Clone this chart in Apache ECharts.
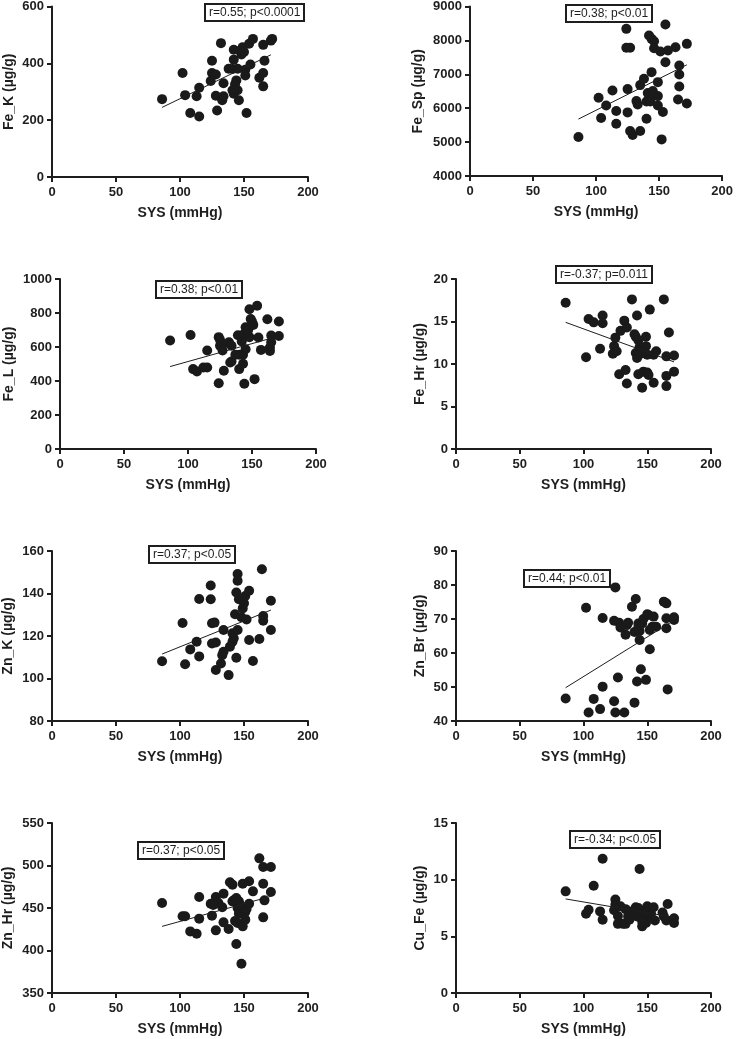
<!DOCTYPE html>
<html>
<head>
<meta charset="utf-8">
<script src="https://cdn.jsdelivr.net/npm/echarts@6/dist/echarts.min.js"></script>
<style>
  html, body { margin: 0; padding: 0; background: #fff; }
  #main { width: 736px; height: 1039px; }
</style>
</head>
<body>
<div id="main"></div>
<script>
// SYS (mmHg) vs trace element content, one [sys, value] pair per subject
var feK = [[86,274],[102,366],[104,288],[108,225],[113,284],[115,314],[115,213],[132,471],[125,409],[125,366],[128,361],[124,338],[128,286],[129,234],[133,270],[134,284],[134,330],[138,381],[141,380],[142,448],[142,413],[144,340],[143,326],[141,305],[142,293],[145,305],[146,270],[145,381],[147,445],[148,431],[149,457],[150,440],[151,377],[151,357],[152,225],[154,469],[155,396],[157,486],[162,349],[165,366],[165,465],[165,319],[166,409],[171,480],[172,486]];
var feSp = [[86,5149],[102,6308],[104,5709],[108,6082],[113,6524],[116,5915],[116,5542],[124,8340],[124,7781],[127,7781],[125,6563],[125,5876],[127,5326],[129,5208],[132,6210],[133,6111],[135,6681],[135,5326],[138,6867],[140,5689],[140,6200],[141,6445],[143,6200],[144,7064],[142,8144],[144,8046],[146,7977],[146,7771],[145,6504],[145,6426],[149,6357],[149,6082],[149,6769],[151,7673],[153,5886],[152,5080],[155,8468],[155,7358],[157,7702],[163,7800],[166,7260],[166,6995],[166,6642],[165,6259],[172,7898],[172,6141]];
var feL = [[86,638],[102,671],[104,470],[107,456],[112,479],[115,479],[115,579],[124,387],[124,658],[125,642],[125,607],[127,613],[127,579],[128,460],[132,628],[134,607],[133,509],[134,515],[137,554],[139,669],[140,554],[140,470],[142,632],[143,554],[143,501],[144,384],[144,677],[145,716],[145,587],[147,700],[148,658],[148,822],[149,765],[150,750],[151,730],[152,411],[154,843],[155,656],[157,583],[162,763],[165,667],[165,628],[164,597],[164,577],[171,750],[171,665]];
var feHr = [[86,17.2],[102,10.8],[104,15.3],[108,14.9],[113,11.8],[115,15.7],[115,14.8],[123,11.2],[124,12.1],[125,13.1],[126,11.5],[128,8.8],[129,13.9],[132,15.1],[133,9.3],[134,14.3],[134,7.7],[138,17.6],[140,13.5],[141,13.2],[142,15.7],[141,11.3],[142,10.7],[143,12.8],[143,8.8],[144,12.0],[145,11.2],[146,7.2],[147,9.1],[149,13.2],[149,12.1],[150,9.0],[151,8.7],[150,11.1],[152,16.4],[155,11.1],[155,7.8],[157,11.5],[163,17.6],[165,10.9],[165,8.6],[165,7.4],[167,13.7],[171,11.0],[171,9.1]];
var znK = [[86,108.1],[102,126.1],[104,106.7],[108,113.7],[113,117.3],[115,137.4],[115,110.4],[124,143.8],[124,137.3],[125,126.0],[127,126.3],[125,116.5],[128,116.9],[128,104.0],[132,107.1],[133,111.0],[134,112.6],[134,122.8],[138,101.6],[139,115.0],[141,121.3],[141,117.3],[142,118.9],[143,130.2],[144,140.5],[145,149.2],[145,146.0],[145,122.8],[144,109.8],[146,137.3],[148,128.8],[149,133.0],[150,135.4],[151,138.8],[152,127.8],[154,141.3],[154,118.1],[157,108.2],[162,118.6],[164,151.4],[165,129.4],[165,127.2],[171,136.6],[171,122.8]];
var znBr = [[86,46.6],[102,73.3],[104,42.5],[108,46.5],[113,43.5],[115,70.3],[115,50.1],[124,69.5],[125,79.3],[124,45.8],[125,42.5],[127,52.8],[128,68.9],[129,67.5],[132,42.5],[133,65.4],[134,68.2],[135,68.9],[138,73.6],[140,45.4],[140,66.2],[141,75.9],[142,51.6],[143,68.7],[143,67.5],[144,66.5],[144,63.8],[145,55.2],[146,68.7],[147,70.0],[149,52.1],[150,71.4],[151,71.2],[152,66.8],[152,61.1],[154,67.7],[155,70.7],[157,67.7],[163,75.1],[165,74.6],[165,67.3],[165,70.2],[166,49.3],[171,70.5],[171,69.7]];
var znHr = [[86,455.9],[102,440.2],[104,440.2],[108,422.5],[113,419.8],[115,462.9],[115,437.5],[124,455.1],[125,441.0],[126,453.5],[128,462.9],[128,423.7],[130,455.9],[133,450.8],[134,466.9],[134,433.1],[138,425.3],[139,480.2],[141,457.8],[141,477.5],[142,459.0],[143,434.7],[144,461.8],[144,407.6],[145,432.4],[145,450.0],[146,443.3],[146,457.8],[148,452.0],[148,384.5],[149,478.6],[149,428.4],[151,436.3],[151,445.3],[152,448.8],[154,481.4],[154,455.1],[157,469.6],[162,508.4],[165,498.2],[165,478.6],[165,439.0],[166,459.0],[171,498.2],[171,468.8]];
var cuFe = [[86,8.97],[102,7.0],[104,7.35],[108,9.47],[113,7.2],[115,11.85],[115,6.47],[125,8.24],[125,7.8],[124,7.3],[127,6.8],[127,6.1],[129,7.65],[131,6.1],[133,6.1],[133,7.4],[135,6.76],[136,6.47],[138,7.2],[140,7.0],[141,7.56],[142,6.76],[144,10.94],[144,7.2],[146,6.3],[146,5.88],[147,6.76],[148,7.2],[149,6.18],[150,7.65],[151,7.35],[152,6.76],[153,7.0],[155,7.56],[156,6.4],[162,7.1],[163,6.76],[166,7.85],[165,6.4],[171,6.6],[171,6.18],[143,7.5],[148,7.1]];

// regression line end points
var fits = [
  [[86,245],[171,430]],
  [[86,5679],[172,7280]],
  [[86,485],[169,660]],
  [[86,14.9],[171,10.25]],
  [[86,111.5],[171,132.2]],
  [[86,49.8],[171,69.6]],
  [[86,428.4],[171,463.7]],
  [[86,8.3],[171,6.68]]
];

var yNames = ['Fe_K (µg/g)', 'Fe_Sp (µg/g)', 'Fe_L (µg/g)', 'Fe_Hr (µg/g)', 'Zn_K (µg/g)', 'Zn_Br (µg/g)', 'Zn_Hr (µg/g)', 'Cu_Fe (µg/g)'];
var stats = ['r=0.55; p<0.0001', 'r=0.38; p<0.01', 'r=0.38; p<0.01', 'r=-0.37; p=0.011', 'r=0.37; p<0.05', 'r=0.44; p<0.01', 'r=0.37; p<0.05', 'r=-0.34; p<0.05'];
var yMin = [0, 4000, 0, 0, 80, 40, 350, 0];
var yMax = [600, 9000, 1000, 20, 160, 90, 550, 15];
var yStep = [200, 1000, 200, 5, 20, 10, 50, 5];
var xTicks = [0, 50, 100, 150, 200];
var xName = 'SYS (mmHg)';
var points = [feK, feSp, feL, feHr, znK, znBr, znHr, cuFe];

// panel placement: grid left, top, width, height, y-name gap, stat box left, top
var layout = [
  [52, 6, 256, 171, 36, 205, 4],
  [470, 6, 254, 170, 45, 566, 5],
  [60, 279, 256, 170, 44, 156, 281],
  [456, 279, 255, 170, 29, 556, 266],
  [52, 551, 256, 170, 37, 149, 546],
  [456, 551, 255, 170, 29, 524, 570],
  [52, 823, 256, 170, 37, 138, 842],
  [456, 823, 255, 170, 29, 570, 831]
];

var ink = '#1e1e1e';
var font = 'Liberation Sans, Arial, Helvetica, sans-serif';

var myChart = echarts.init(document.getElementById('main'));

function plain(v) { return String(v); }

var grid = [], xAxis = [], yAxis = [], series = [], title = [];
for (var i = 0; i < 8; i++) {
  var L = layout[i];
  grid.push({ left: L[0], top: L[1], width: L[2], height: L[3], containLabel: false });
  xAxis.push({
    gridIndex: i, type: 'value', min: xTicks[0], max: xTicks[xTicks.length - 1],
    interval: xTicks[1] - xTicks[0],
    name: xName, nameLocation: 'middle', nameGap: 29,
    nameTextStyle: { color: ink, fontWeight: 'bold', fontSize: 14, fontFamily: font },
    axisLine: { onZero: false, lineStyle: { color: ink, width: 2 } },
    axisTick: { show: true, length: 5, lineStyle: { color: ink, width: 2 } },
    axisLabel: { color: ink, fontWeight: 'bold', fontSize: 13, fontFamily: font, margin: 9, formatter: plain },
    splitLine: { show: false }
  });
  yAxis.push({
    gridIndex: i, type: 'value', min: yMin[i], max: yMax[i], interval: yStep[i],
    name: yNames[i], nameLocation: 'middle', nameGap: L[4],
    nameTextStyle: { color: ink, fontWeight: 'bold', fontSize: 14, fontFamily: font },
    axisLine: { show: true, onZero: false, lineStyle: { color: ink, width: 2 } },
    axisTick: { show: true, length: 5, lineStyle: { color: ink, width: 2 } },
    axisLabel: { color: ink, fontWeight: 'bold', fontSize: 13, fontFamily: font, margin: 8, formatter: plain },
    splitLine: { show: false }
  });
  series.push({
    type: 'line', xAxisIndex: i, yAxisIndex: i, data: fits[i],
    symbol: 'none', silent: true, animation: false,
    lineStyle: { color: ink, width: 1 }
  });
  series.push({
    type: 'scatter', xAxisIndex: i, yAxisIndex: i, data: points[i],
    symbolSize: 10, animation: false,
    itemStyle: { color: '#1a1a1a', opacity: 1 }
  });
  title.push({
    text: stats[i], left: L[5], top: L[6],
    padding: [3, 4, 2, 4], borderColor: ink, borderWidth: 2,
    textStyle: { color: ink, fontSize: 12, fontWeight: 'normal', fontFamily: font }
  });
}

var option = {
  backgroundColor: '#ffffff',
  animation: false,
  title: title,
  grid: grid,
  xAxis: xAxis,
  yAxis: yAxis,
  series: series
};

myChart.setOption(option);
</script>
</body>
</html>
